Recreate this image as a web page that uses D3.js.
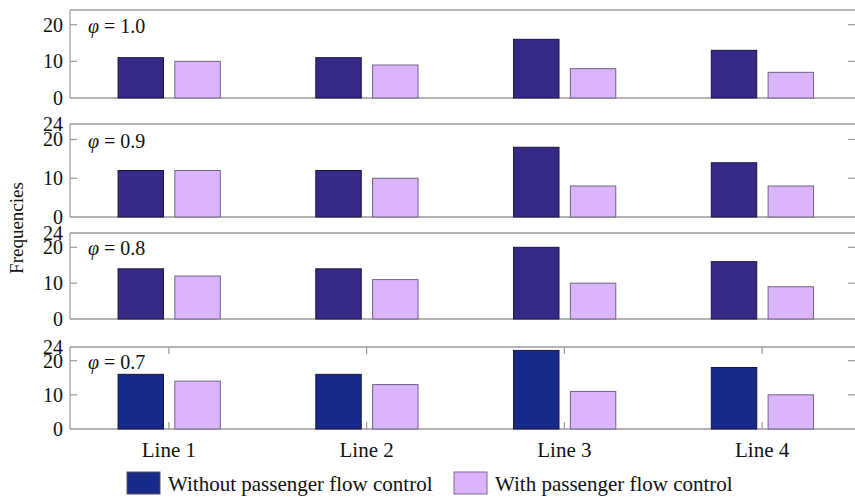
<!DOCTYPE html>
<html>
<head>
<meta charset="utf-8">
<script src="https://cdn.jsdelivr.net/npm/d3@7/dist/d3.min.js"></script>
<style>
  html, body { margin: 0; padding: 0; background: #fff; }
  svg { display: block; font-family: "Liberation Serif", "DejaVu Serif", serif; }
</style>
</head>
<body>
<svg id="chart" width="855" height="498"></svg>
<script>
const categories = ["Line 1", "Line 2", "Line 3", "Line 4"];
const seriesNames = ["Without passenger flow control", "With passenger flow control"];
const phiLabels = ["1.0", "0.9", "0.8", "0.7"];
const withoutControl = [
  [11, 11, 16, 13],
  [12, 12, 18, 14],
  [14, 14, 20, 16],
  [16, 16, 23, 18]
];
const withControl = [
  [10, 9, 8, 7],
  [12, 10, 8, 8],
  [12, 11, 10, 9],
  [14, 13, 11, 10]
];
const yTicksFirst = [0, 10, 20];
const yTicksOther = [0, 10, 20, 24];
const yMax = 24;

const svg = d3.select("#chart");
const left = 70, right = 861;
const panelTops = [10, 124, 233, 347];
const panelBottoms = [98, 217, 319, 429];
const darkColors = ["#352a86", "#352a86", "#352a86", "#172a8a"];
const lightColor = "#dab4fc";
const frameColor = "#9a9a9a";

const x = d3.scaleBand().domain(categories).range([left, right]);
const bw = x.bandwidth();
const x1 = d3.scaleBand().domain(["without", "with"])
  .range([bw * 0.243, bw * 0.76]).paddingInner(0.2);

phiLabels.forEach((phi, i) => {
  const top = panelTops[i], bottom = panelBottoms[i];
  const y = d3.scaleLinear().domain([0, yMax]).range([bottom, top]);
  const g = svg.append("g");

  // frame lines (top and bottom), left axis line
  g.append("line").attr("x1", left).attr("x2", right).attr("y1", top).attr("y2", top)
    .attr("stroke", frameColor).attr("stroke-width", 1.5);
  g.append("line").attr("x1", left).attr("x2", right).attr("y1", bottom).attr("y2", bottom)
    .attr("stroke", frameColor).attr("stroke-width", 1.5);
  g.append("line").attr("x1", left).attr("x2", left).attr("y1", top).attr("y2", bottom)
    .attr("stroke", frameColor).attr("stroke-width", 1.2);

  const ticks = i === 0 ? yTicksFirst : yTicksOther;
  const yAxis = d3.axisLeft(y).tickValues(ticks).tickSize(0).tickPadding(7).tickFormat(d3.format("d"));
  const ag = g.append("g").attr("transform", `translate(${left},0)`).call(yAxis);
  ag.select(".domain").remove();
  ag.selectAll("text").attr("font-size", 20).attr("fill", "#111")
    .attr("font-family", "Liberation Serif, serif");
  // inward ticks left and right
  ticks.filter(t => t > 0 && t < yMax).forEach(t => {
    g.append("line").attr("x1", left).attr("x2", left + 7).attr("y1", y(t)).attr("y2", y(t))
      .attr("stroke", frameColor).attr("stroke-width", 1.2);
    g.append("line").attr("x1", 848).attr("x2", 855).attr("y1", y(t)).attr("y2", y(t))
      .attr("stroke", frameColor).attr("stroke-width", 1.2);
  });

  // bars
  const rows = categories.map((c, j) => ({ cat: c, without: withoutControl[i][j], with: withControl[i][j] }));
  const grp = g.selectAll(".grp").data(rows).enter().append("g")
    .attr("transform", d => `translate(${x(d.cat)},0)`);
  grp.append("rect")
    .attr("x", x1("without")).attr("width", x1.bandwidth())
    .attr("y", d => y(d.without)).attr("height", d => y(0) - y(d.without))
    .attr("fill", darkColors[i]).attr("stroke", "#1a1540").attr("stroke-width", 1);
  grp.append("rect")
    .attr("x", x1("with")).attr("width", x1.bandwidth())
    .attr("y", d => y(d.with)).attr("height", d => y(0) - y(d.with))
    .attr("fill", lightColor).attr("stroke", "#6f6280").attr("stroke-width", 1);

  // phi label
  const t = g.append("text").attr("x", 88).attr("y", y(20) + 1)
    .attr("dominant-baseline", "central").attr("font-size", 20).attr("fill", "#111");
  t.append("tspan").attr("font-style", "italic").text("φ");
  t.append("tspan").text(" = " + phi);

  // x ticks in bottom panel
  if (i === phiLabels.length - 1) {
    categories.forEach(c => {
      const cx = x(c) + bw / 2;
      g.append("line").attr("x1", cx).attr("x2", cx).attr("y1", top).attr("y2", top + 7)
        .attr("stroke", frameColor).attr("stroke-width", 1.2);
      g.append("line").attr("x1", cx).attr("x2", cx).attr("y1", bottom).attr("y2", bottom - 7)
        .attr("stroke", frameColor).attr("stroke-width", 1.2);
    });
    const xAxis = d3.axisBottom(x).tickSize(0).tickPadding(13);
    const xg = g.append("g").attr("transform", `translate(0,${bottom})`).call(xAxis);
    xg.select(".domain").remove();
    xg.selectAll("text").attr("font-size", 21).attr("fill", "#111")
      .attr("font-family", "Liberation Serif, serif");
  }
});

// y-axis title
svg.append("text").attr("transform", "translate(23,228) rotate(-90)")
  .attr("text-anchor", "middle").attr("font-size", 19).attr("fill", "#111")
  .text("Frequencies");

// legend
const legend = [
  { name: seriesNames[0], color: "#172a8a", stroke: "#555", x: 127 },
  { name: seriesNames[1], color: lightColor, stroke: "#7a6a8a", x: 454 }
];
const lg = svg.selectAll(".lg").data(legend).enter().append("g")
  .attr("transform", d => `translate(${d.x},472)`);
lg.append("rect").attr("width", 33).attr("height", 22)
  .attr("fill", d => d.color).attr("stroke", d => d.stroke).attr("stroke-width", 1);
lg.append("text").attr("x", 41).attr("y", 19).attr("font-size", 21).attr("fill", "#111")
  .text(d => d.name);
</script>
</body>
</html>
